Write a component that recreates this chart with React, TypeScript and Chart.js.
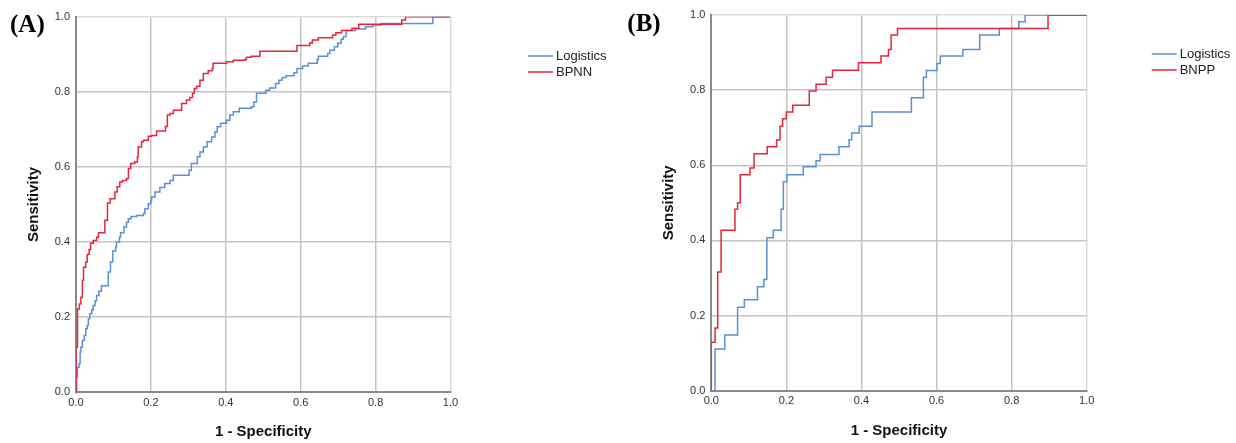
import React, { useEffect, useRef } from "react";
import { Chart, registerables } from "chart.js";

Chart.register(...registerables);

// ---------- tick labels ----------
const tickValues = [0, 0.2, 0.4, 0.6, 0.8, 1.0];
const xAxisTitle = "1 - Specificity";
const yAxisTitle = "Sensitivity";

// ---------- panel A ----------
const panelLabelA = "(A)";
const seriesNamesA = ["Logistics", "BPNN"];
const logisticsA_fpr = [
  0, 0.002, 0.004, 0.008, 0.011, 0.013, 0.017, 0.022, 0.026, 0.03, 0.033, 0.037, 0.042, 0.046, 0.051, 0.055,
  0.061, 0.068, 0.086, 0.092, 0.098, 0.106, 0.108, 0.116, 0.119, 0.128, 0.135, 0.14, 0.147, 0.162, 0.18, 0.184,
  0.193, 0.2, 0.202, 0.211, 0.224, 0.237, 0.251, 0.26, 0.302, 0.308, 0.324, 0.331, 0.34, 0.35, 0.362, 0.371,
  0.377, 0.386, 0.402, 0.411, 0.42, 0.436, 0.468, 0.475, 0.482, 0.507, 0.517, 0.533, 0.542, 0.55, 0.561, 0.582,
  0.59, 0.605, 0.62, 0.644, 0.647, 0.672, 0.678, 0.69, 0.699, 0.708, 0.714, 0.721, 0.722, 0.745, 0.773, 0.793,
  0.815, 0.953, 1.0,
];
const logisticsA_tpr = [
  0, 0.04, 0.067, 0.076, 0.107, 0.12, 0.138, 0.151, 0.169, 0.178, 0.196, 0.209, 0.22, 0.231, 0.244, 0.258,
  0.269, 0.284, 0.32, 0.347, 0.376, 0.387, 0.4, 0.413, 0.425, 0.44, 0.453, 0.462, 0.468, 0.471, 0.476, 0.489,
  0.502, 0.511, 0.52, 0.533, 0.545, 0.556, 0.564, 0.578, 0.591, 0.609, 0.627, 0.64, 0.653, 0.667, 0.68, 0.693,
  0.707, 0.716, 0.724, 0.738, 0.747, 0.756, 0.76, 0.773, 0.796, 0.804, 0.81, 0.822, 0.831, 0.838, 0.843, 0.851,
  0.862, 0.869, 0.876, 0.886, 0.895, 0.902, 0.911, 0.92, 0.929, 0.94, 0.947, 0.956, 0.963, 0.967, 0.973, 0.978,
  0.982, 1.0, 1.0,
];
const bpnnA_fpr = [
  0, 0, 0.004, 0.009, 0.013, 0.017, 0.02, 0.026, 0.03, 0.035, 0.039, 0.046, 0.055, 0.06, 0.077, 0.084,
  0.091, 0.104, 0.11, 0.117, 0.124, 0.135, 0.14, 0.146, 0.157, 0.164, 0.166, 0.175, 0.18, 0.193, 0.202, 0.215,
  0.239, 0.244, 0.251, 0.26, 0.282, 0.295, 0.304, 0.311, 0.316, 0.322, 0.331, 0.34, 0.353, 0.364, 0.366, 0.402,
  0.42, 0.451, 0.455, 0.468, 0.491, 0.59, 0.624, 0.631, 0.647, 0.685, 0.694, 0.709, 0.737, 0.755, 0.87, 0.88,
  1.0,
];
const bpnnA_tpr = [
  0, 0.12, 0.222, 0.235, 0.253, 0.298, 0.333, 0.347, 0.367, 0.38, 0.397, 0.404, 0.413, 0.425, 0.458, 0.504,
  0.515, 0.533, 0.547, 0.56, 0.564, 0.569, 0.596, 0.609, 0.613, 0.627, 0.653, 0.667, 0.671, 0.682, 0.684, 0.696,
  0.708, 0.738, 0.742, 0.751, 0.769, 0.778, 0.785, 0.796, 0.809, 0.815, 0.831, 0.849, 0.856, 0.862, 0.876, 0.88,
  0.884, 0.886, 0.892, 0.895, 0.908, 0.923, 0.93, 0.938, 0.944, 0.951, 0.957, 0.963, 0.969, 0.98, 0.991, 1.0,
  1.0,
];

// ---------- panel B ----------
const panelLabelB = "(B)";
const seriesNamesB = ["Logistics", "BNPP"];
const logisticsB_fpr = [
  0, 0.01, 0.036, 0.07, 0.088, 0.123, 0.14, 0.148, 0.165, 0.186, 0.192, 0.201, 0.245, 0.279, 0.29, 0.34,
  0.367, 0.374, 0.394, 0.428, 0.533, 0.565, 0.573, 0.601, 0.61, 0.67, 0.715, 0.767, 0.819, 0.836, 1.0,
];
const logisticsB_tpr = [
  0, 0.111, 0.148, 0.222, 0.242, 0.277, 0.296, 0.407, 0.427, 0.483, 0.556, 0.575, 0.596, 0.612, 0.629, 0.649,
  0.668, 0.686, 0.704, 0.742, 0.78, 0.834, 0.852, 0.871, 0.891, 0.908, 0.947, 0.964, 0.982, 1.0, 1.0,
];
const bnppB_fpr = [
  0, 0, 0.01, 0.017, 0.026, 0.063, 0.07, 0.077, 0.103, 0.114, 0.149, 0.174, 0.183, 0.19, 0.2, 0.217,
  0.261, 0.279, 0.306, 0.323, 0.392, 0.452, 0.472, 0.479, 0.496, 0.897, 1.0,
];
const bnppB_tpr = [
  0, 0.129, 0.167, 0.316, 0.427, 0.483, 0.5, 0.575, 0.593, 0.631, 0.649, 0.667, 0.704, 0.724, 0.742, 0.76,
  0.798, 0.816, 0.834, 0.853, 0.873, 0.891, 0.908, 0.947, 0.964, 1.0, 1.0,
];

const BLUE = "#5b8fd6";
const RED = "#e3263d";
const SANS = '"Liberation Sans", Arial, Helvetica, sans-serif';
const SERIF = '"Liberation Serif", "Times New Roman", serif';

type PanelProps = {
  left: number;
  label: string;
  names: string[];
  series: { fpr: number[]; tpr: number[] }[];
  area: { left: number; right: number; top: number; bottom: number };
  yTitleOffset: number;
  xTitleBottom: number;
  legend: { x: number; y: number };
  labelPos: { x: number; y: number };
};

const W = 618;
const H = 443;

function RocPanel(p: PanelProps) {
  const ref = useRef<HTMLCanvasElement>(null);
  useEffect(() => {
    const colors = [BLUE, RED];
    const overlay = {
      id: "overlay" + p.label,
      afterDraw(chart: any) {
        const ctx = chart.ctx as CanvasRenderingContext2D;
        ctx.save();
        // panel label
        ctx.fillStyle = "#000";
        ctx.font = "bold 25px " + SERIF;
        ctx.textBaseline = "alphabetic";
        ctx.textAlign = "left";
        ctx.fillText(p.label, p.labelPos.x, p.labelPos.y);
        // legend
        ctx.font = "13px " + SANS;
        ctx.textBaseline = "middle";
        p.names.forEach((n, i) => {
          const y = p.legend.y + i * 16;
          ctx.strokeStyle = colors[i];
          ctx.lineWidth = 1.5;
          ctx.beginPath();
          ctx.moveTo(p.legend.x, y);
          ctx.lineTo(p.legend.x + 25, y);
          ctx.stroke();
          ctx.fillStyle = "#222";
          ctx.fillText(n, p.legend.x + 28, y);
        });
        ctx.restore();
      },
    };
    const gridColor = (c: any) => {
      const v = c.tick ? c.tick.value : 0;
      if (v >= 0.999) return "#dcdcdc";
      if (v <= 0.001) return "rgba(0,0,0,0)";
      return "#c4c4c4";
    };
    const setTicks = (s: any) => {
      s.ticks = tickValues.map((v) => ({ value: v }));
    };
    const chart = new Chart(ref.current as HTMLCanvasElement, {
      type: "line",
      data: {
        datasets: p.series.map((s, i) => ({
          label: p.names[i],
          data: s.fpr.map((x, j) => ({ x, y: s.tpr[j] })),
          borderColor: colors[i],
          backgroundColor: colors[i],
          borderWidth: 1.5,
          pointRadius: 0,
          stepped: true,
          fill: false,
          order: i === 0 ? 1 : 0,
        })),
      },
      options: {
        animation: false,
        responsive: false,
        layout: {
          padding: { left: 0, right: W - p.area.right, top: p.area.top, bottom: 0 },
        },
        plugins: { legend: { display: false }, tooltip: { enabled: false } },
        scales: {
          x: {
            type: "linear",
            min: 0,
            max: 1,
            afterBuildTicks: setTicks,
            afterFit: (s: any) => {
              s.height = H - p.area.bottom;
            },
            grid: { color: gridColor, lineWidth: 1.5, drawTicks: false },
            border: { display: true, color: "#8a8a8a", width: 2 },
            ticks: {
              padding: 4,
              color: "#333",
              font: { family: SANS, size: 11 },
              callback: (v: any) => Number(v).toFixed(1),
            },
            title: {
              display: true,
              text: xAxisTitle,
              color: "#111",
              font: { family: SANS, size: 15, weight: "bold" },
              padding: { top: 0, bottom: p.xTitleBottom },
            },
          },
          y: {
            type: "linear",
            min: 0,
            max: 1,
            afterBuildTicks: setTicks,
            afterFit: (s: any) => {
              s.width = p.area.left;
            },
            grid: { color: gridColor, lineWidth: 1.5, drawTicks: false },
            border: { display: true, color: "#8a8a8a", width: 2 },
            ticks: {
              padding: 6,
              color: "#333",
              font: { family: SANS, size: 11 },
              callback: (v: any) => Number(v).toFixed(1),
            },
            title: {
              display: true,
              text: yAxisTitle,
              color: "#111",
              font: { family: SANS, size: 15, weight: "bold" },
              padding: { top: p.yTitleOffset, bottom: 0 },
            },
          },
        },
      },
      plugins: [overlay],
    } as any);
    return () => chart.destroy();
  }, []);
  return (
    <canvas
      ref={ref}
      width={W}
      height={H}
      style={{ position: "absolute", left: p.left, top: 0, width: W, height: H }}
    />
  );
}

export default function App() {
  return (
    <div style={{ position: "absolute", left: 0, top: 0, width: 1236, height: 443, background: "#fff" }}>
      <RocPanel
        left={0}
        label={panelLabelA}
        names={seriesNamesA}
        series={[
          { fpr: logisticsA_fpr, tpr: logisticsA_tpr },
          { fpr: bpnnA_fpr, tpr: bpnnA_tpr },
        ]}
        area={{ left: 76, right: 450.5, top: 16.7, bottom: 392.3 }}
        yTitleOffset={25}
        xTitleBottom={2}
        legend={{ x: 528, y: 56 }}
        labelPos={{ x: 10, y: 31.5 }}
      />
      <RocPanel
        left={618}
        label={panelLabelB}
        names={seriesNamesB}
        series={[
          { fpr: logisticsB_fpr, tpr: logisticsB_tpr },
          { fpr: bnppB_fpr, tpr: bnppB_tpr },
        ]}
        area={{ left: 93.3, right: 468.7, top: 15, bottom: 390.7 }}
        yTitleOffset={42}
        xTitleBottom={3}
        legend={{ x: 533.7, y: 54 }}
        labelPos={{ x: 9.3, y: 31 }}
      />
    </div>
  );
}
